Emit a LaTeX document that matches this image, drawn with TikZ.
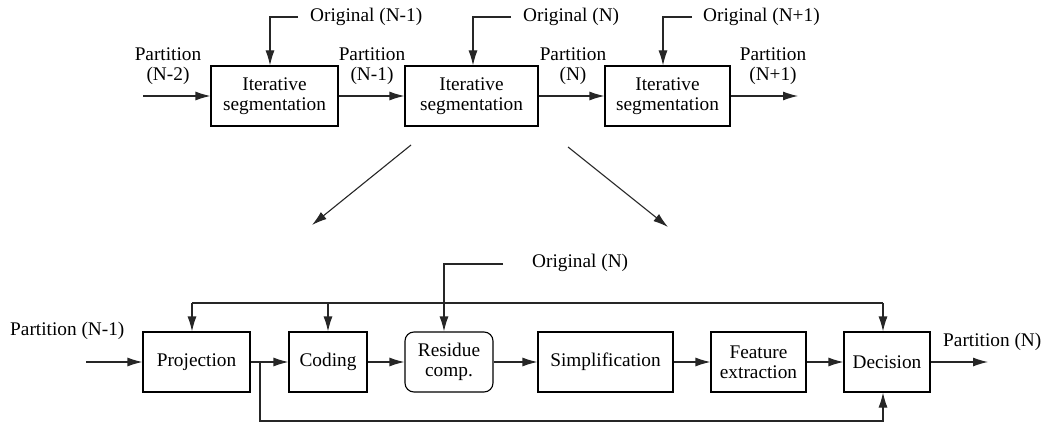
\documentclass[tikz,border=0pt]{standalone}
\usepackage{fontspec}
\setmainfont{Liberation Serif}
\usetikzlibrary{arrows.meta}
\begin{document}
\begin{tikzpicture}[x=1pt,y=-1pt,
  every node/.style={font=\fontsize{19.3}{20}\selectfont},
  box/.style={draw, line width=1.1pt, minimum height=60pt, inner sep=0pt, align=center},
  rbox/.style={box, rounded corners=9pt},
  lbl/.style={inner sep=0pt, align=center},
  ln/.style={line width=1.1pt, draw=black!85},
  arr/.style={ln, -{Latex[length=15pt,width=9pt]}}
]
\useasboundingbox (0,0) rectangle (1058,425);
% top row
\node[box, minimum width=127pt] (b1) at (274.5,96) {Iterative\\segmentation};
\node[box, minimum width=133pt] (b2) at (471.5,96) {Iterative\\segmentation};
\node[box, minimum width=125pt] (b3) at (667.5,96) {Iterative\\segmentation};
\coordinate (tin) at (143,96);
\coordinate (tout) at (798,96);
\draw[arr] (tin) -- (b1);
\draw[arr] (b1) -- (b2);
\draw[arr] (b2) -- (b3);
\draw[arr] (b3.east) -- (tout);
\node[lbl] (p1) at (168,66.5) {Partition\\(N-2)};
\node[lbl] (p2) at (372,66.5) {Partition\\(N-1)};
\node[lbl] (p3) at (573,66.5) {Partition\\(N)};
\node[lbl] (p4) at (773,66.5) {Partition\\(N+1)};
\node[lbl, anchor=west] (o1) at (310,17) {Original (N-1)};
\node[lbl, anchor=west] (o2) at (523,17) {Original (N)};
\node[lbl, anchor=west] (o3) at (703,17) {Original (N+1)};
\coordinate (c1) at (298,17);
\coordinate (c2) at (511,17);
\coordinate (c3) at (692,17);
\draw[arr] (c1) -| ([xshift=-4.5pt]b1.north);
\draw[arr] (c2) -| ([xshift=1.5pt]b2.north);
\draw[arr] (c3) -| ([xshift=-4.5pt]b3.north);
% diagonal arrows
\coordinate (d1s) at (411,145);
\coordinate (d1e) at (312,225);
\coordinate (d2s) at (568,147);
\coordinate (d2e) at (668,227);
\draw[arr] (d1s) -- (d1e);
\draw[arr] (d2s) -- (d2e);
% bottom row
\node[box, minimum width=107pt] (proj) at (196.5,362) {Projection};
\node[box, minimum width=78pt] (cod) at (328,362) {Coding};
\node[rbox, minimum width=88pt] (res) at (449,362) {Residue\\comp.};
\node[box, minimum width=135pt] (simp) at (605.5,362) {Simplification};
\node[box, minimum width=95pt] (feat) at (758.5,362) {Feature\\extraction};
\node[box, minimum width=86pt] (dec) at (887,362) {Decision};
\coordinate (bin) at (86,362);
\coordinate (bout) at (988,362);
\draw[arr] (bin) -- (proj);
\draw[arr] (proj) -- (cod);
\draw[arr] (cod) -- (res);
\draw[arr] (res) -- (simp);
\draw[arr] (simp) -- (feat);
\draw[arr] (feat) -- (dec);
\draw[arr] (dec.east) -- (bout);
\node[lbl, anchor=west] (pin) at (10,331) {Partition (N-1)};
\node[lbl, anchor=west] (pout) at (943,342) {Partition (N)};
\node[lbl, anchor=west] (on) at (532,263) {Original (N)};
\coordinate (c4) at (503,264);
\draw[arr] (c4) -| ([xshift=-5pt]res.north);
% top bus
\coordinate (busL) at (192,303);
\coordinate (busR) at (883,303);
\draw[ln] (busL) -- (busR);
\draw[arr] (busL) -- (busL |- proj.north);
\draw[arr] (cod.north |- busL) -- (cod.north);
\draw[arr] (busR) -- (busR |- dec.north);
% bottom feedback
\coordinate (br) at (260,362);
\coordinate (bb) at (883,421);
\draw[arr] (br) |- (bb) -- (bb |- dec.south);
\end{tikzpicture}
\end{document}
